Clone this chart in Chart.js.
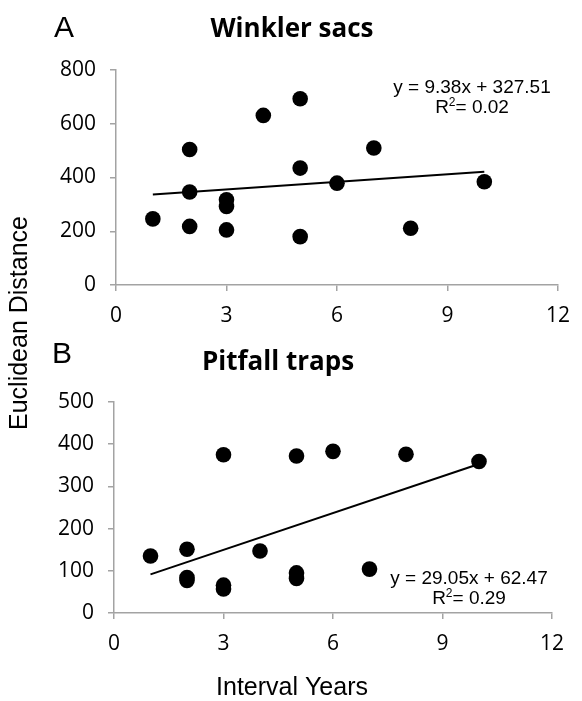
<!DOCTYPE html>
<html>
<head>
<meta charset="utf-8">
<script src="https://cdn.jsdelivr.net/npm/chart.js@4.4.1/dist/chart.umd.min.js"></script>
<style>
  html, body { margin: 0; padding: 0; background: #fff; }
  #wrap { position: relative; width: 582px; height: 701px; overflow: hidden; }
  canvas { position: absolute; left: 0; top: 0; }
</style>
</head>
<body>
<div id="wrap">
  <canvas id="cA" width="582" height="701"></canvas>
  <canvas id="cB" width="582" height="701"></canvas>
</div>
<script>
// ---- Data ----
const winklerYears = [1, 2, 2, 2, 3, 3, 3, 4, 5, 5, 5, 6, 7, 8, 10];
const winklerDist  = [246, 504, 346, 218, 317, 292, 205, 631, 693, 435, 180, 379, 510, 211, 384];
const winklerTrendX = [1, 10];
const winklerTrendY = [337, 421];

const pitfallYears = [1, 2, 2, 2, 3, 3, 3, 4, 5, 5, 5, 6, 7, 8, 10];
const pitfallDist  = [135, 151, 84, 77, 375, 66, 57, 147, 372, 95, 82, 383, 104, 376, 359];
const pitfallTrendX = [1, 10];
const pitfallTrendY = [91.5, 353];

const xTicks = [0, 3, 6, 9, 12];
const winklerYTicks = [0, 200, 400, 600, 800];
const pitfallYTicks = [0, 100, 200, 300, 400, 500];

const titleA = 'Winkler sacs';
const titleB = 'Pitfall traps';
const eqA = ['y = 9.38x + 327.51', '0.02'];
const eqB = ['y = 29.05x + 62.47', '0.29'];
const yAxisTitle = 'Euclidean Distance';
const xAxisTitle = 'Interval Years';

// ---- helpers ----
const AXIS = '#a3a3a3';
const TICKFONT = { family: '"Open Sans", sans-serif', size: 21 };

function pts(xs, ys) { return xs.map((x, i) => ({ x: x, y: ys[i] })); }

function drawR2(ctx, cx, baseline, val) {
  const big = '19px "Liberation Sans", Arial, sans-serif';
  const small = '12px "Liberation Sans", Arial, sans-serif';
  ctx.font = big; const wR = ctx.measureText('R').width;
  const rest = '= ' + val; const wRest = ctx.measureText(rest).width;
  ctx.font = small; const w2 = ctx.measureText('2').width;
  const total = wR + w2 + wRest;
  let x = cx - total / 2;
  ctx.textAlign = 'left';
  ctx.font = big; ctx.fillText('R', x, baseline); x += wR;
  ctx.font = small; ctx.fillText('2', x, baseline - 7); x += w2;
  ctx.font = big; ctx.fillText(rest, x, baseline);
}

function textPlugin(cfg) {
  return {
    id: 'texts' + cfg.letter,
    afterDraw(chart) {
      const ctx = chart.ctx;
      ctx.save();
      ctx.fillStyle = '#000';
      ctx.textBaseline = 'alphabetic';
      // panel letter
      ctx.font = '30px "Liberation Sans", Arial, sans-serif';
      ctx.textAlign = 'left';
      ctx.fillText(cfg.letter, cfg.letterX, cfg.letterY);
      // panel title
      ctx.font = 'bold 26px "Open Sans", sans-serif';
      ctx.textAlign = 'center';
      ctx.fillText(cfg.title, cfg.titleX, cfg.titleY);
      // equation
      ctx.font = '19px "Liberation Sans", Arial, sans-serif';
      ctx.textAlign = 'center';
      ctx.fillText(cfg.eq[0], cfg.eqX, cfg.eqY);
      drawR2(ctx, cfg.eqX, cfg.eqY + cfg.eqGap, cfg.eq[1]);
      if (cfg.extra) cfg.extra(ctx);
      ctx.restore();
    }
  };
}

function makeChart(id, cfg) {
  return new Chart(document.getElementById(id), {
    type: 'scatter',
    data: {
      datasets: [
        {
          type: 'line',
          data: pts(cfg.trendX, cfg.trendY),
          borderColor: '#000',
          borderWidth: 2,
          pointRadius: 0,
          fill: false,
          order: 0
        },
        {
          data: pts(cfg.xs, cfg.ys),
          backgroundColor: '#000',
          borderWidth: 0,
          pointRadius: 7.8,
          order: 1
        }
      ]
    },
    options: {
      responsive: false,
      animation: false,
      devicePixelRatio: 1,
      events: [],
      layout: { padding: cfg.padding },
      plugins: { legend: { display: false }, tooltip: { enabled: false }, title: { display: false } },
      scales: {
        x: {
          type: 'linear', min: 0, max: 12,
          afterBuildTicks: s => { s.ticks = xTicks.map(v => ({ value: v })); },
          ticks: { font: TICKFONT, color: '#000', padding: 12, maxRotation: 0 },
          grid: { display: true, drawOnChartArea: false, drawTicks: true, tickLength: 6, color: AXIS, lineWidth: 1.5 },
          border: { display: true, color: AXIS, width: 1.5 },
          afterFit: s => { s.height = 40; }
        },
        y: {
          type: 'linear', min: cfg.yTicks[0], max: cfg.yTicks[cfg.yTicks.length - 1],
          afterBuildTicks: s => { s.ticks = cfg.yTicks.map(v => ({ value: v })); },
          ticks: { font: TICKFONT, color: '#000', padding: 14 },
          grid: { display: true, drawOnChartArea: false, drawTicks: true, tickLength: 6, color: AXIS, lineWidth: 1.5 },
          border: { display: true, color: AXIS, width: 1.5 },
          afterFit: s => { s.width = cfg.yWidth; }
        }
      }
    },
    plugins: [textPlugin(cfg.text)]
  });
}

makeChart('cA', {
  xs: winklerYears, ys: winklerDist, trendX: winklerTrendX, trendY: winklerTrendY,
  yTicks: winklerYTicks, yWidth: 116,
  padding: { left: 0, right: 13, top: 70, bottom: 701 - 285 - 40 },
  text: {
    letter: 'A', letterX: 54, letterY: 37,
    title: titleA, titleX: 292, titleY: 37,
    eq: eqA, eqX: 472, eqY: 93, eqGap: 20,
    extra: ctx => {
      ctx.save();
      ctx.font = '25px "Liberation Sans", Arial, sans-serif';
      ctx.textAlign = 'center';
      ctx.translate(27, 323);
      ctx.rotate(-Math.PI / 2);
      ctx.fillText(yAxisTitle, 0, 0);
      ctx.restore();
    }
  }
});

makeChart('cB', {
  xs: pitfallYears, ys: pitfallDist, trendX: pitfallTrendX, trendY: pitfallTrendY,
  yTicks: pitfallYTicks, yWidth: 114,
  padding: { left: 0, right: 30, top: 402, bottom: 701 - 613 - 40 },
  text: {
    letter: 'B', letterX: 52, letterY: 363,
    title: titleB, titleX: 278, titleY: 370,
    eq: eqB, eqX: 469, eqY: 584, eqGap: 20,
    extra: ctx => {
      ctx.font = '25px "Liberation Sans", Arial, sans-serif';
      ctx.textAlign = 'center';
      ctx.fillText(xAxisTitle, 292, 695);
    }
  }
});
</script>
</body>
</html>
